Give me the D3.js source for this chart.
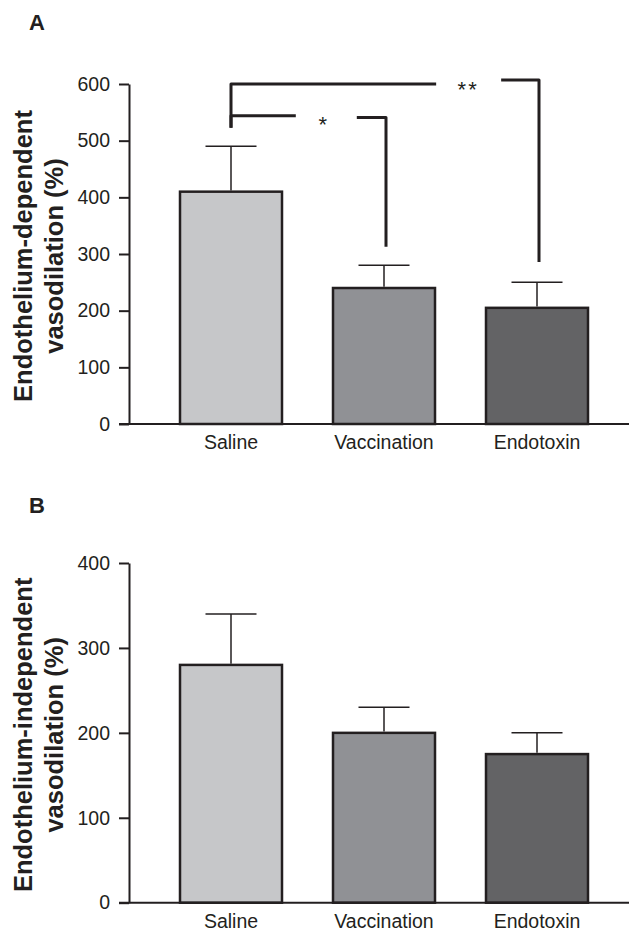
<!DOCTYPE html>
<html>
<head>
<meta charset="utf-8">
<script src="https://cdn.jsdelivr.net/npm/d3@7"></script>
<style>
  html, body { margin: 0; padding: 0; background: #fff; }
  svg { display: block; font-family: "Liberation Sans", Arial, Helvetica, sans-serif; }
</style>
</head>
<body>
<svg id="chart" width="629" height="933"></svg>
<script>
// ---- data ----
const categories = ["Saline", "Vaccination", "Endotoxin"];
const fills = ["#c6c7c9", "#909195", "#636365"];

const dependentMeans = [410, 240, 205];
const dependentErrors = [80, 40, 45];
const dependentTicks = [0, 100, 200, 300, 400, 500, 600];

const independentMeans = [280, 200, 175];
const independentErrors = [60, 30, 25];
const independentTicks = [0, 100, 200, 300, 400];

// significance brackets for panel A (data units)
const sigBrackets = [
  { from: "Saline", to: "Endotoxin", leftLow: 523, leftTop: 600, rightTop: 607, rightLow: 286, label: "**", at: 0.775 },
  { from: "Saline", to: "Vaccination", leftLow: 523, leftTop: 544, rightTop: 541, rightLow: 313, label: "*", at: 0.6 }
];

// ---- layout ----
const svg = d3.select("#chart");
const ink = "#231f20";
const axisX = 129;

const x = d3.scaleBand().domain(categories)
  .range([154.5, 613.5]).paddingInner(1/3).paddingOuter(1/6);

function panel(opts) {
  const { letter, letterY, yMax, y0, y1, ticks, means, errors, title1, title2 } = opts;
  const y = d3.scaleLinear().domain([0, yMax]).range([y0, y1]);
  const g = svg.append("g");

  g.append("text").attr("x", 29).attr("y", letterY)
    .attr("font-size", 22).attr("font-weight", "bold").attr("fill", ink).text(letter);

  // y axis
  const ya = g.append("g").attr("transform", `translate(${axisX},0)`)
    .call(d3.axisLeft(y).tickValues(ticks).tickSize(10).tickSizeOuter(0).tickPadding(9).tickFormat(d3.format("d")));
  ya.select(".domain").attr("stroke", ink).attr("stroke-width", 2);
  ya.selectAll(".tick line").attr("stroke", ink).attr("stroke-width", 2);
  ya.selectAll(".tick text").attr("font-size", 19.5).attr("fill", ink)
    .attr("font-family", "'Liberation Sans', Arial, sans-serif");

  // bars
  g.selectAll("rect.bar").data(categories).join("rect")
    .attr("x", d => x(d)).attr("width", x.bandwidth())
    .attr("y", (d, i) => y(means[i])).attr("height", (d, i) => y(0) - y(means[i]))
    .attr("fill", (d, i) => fills[i]).attr("stroke", ink).attr("stroke-width", 2.5);

  // error bars
  const eb = g.selectAll("g.err").data(categories).join("g");
  eb.append("line")
    .attr("x1", d => x(d) + x.bandwidth()/2).attr("x2", d => x(d) + x.bandwidth()/2)
    .attr("y1", (d, i) => y(means[i]) - 1.25).attr("y2", (d, i) => y(means[i] + errors[i]))
    .attr("stroke", ink).attr("stroke-width", 1.5);
  eb.append("line")
    .attr("x1", d => x(d) + x.bandwidth()/4).attr("x2", d => x(d) + 3*x.bandwidth()/4)
    .attr("y1", (d, i) => y(means[i] + errors[i])).attr("y2", (d, i) => y(means[i] + errors[i]))
    .attr("stroke", ink).attr("stroke-width", 1.5);

  // x axis
  g.append("line").attr("x1", axisX - 10).attr("x2", 629).attr("y1", y(0)).attr("y2", y(0))
    .attr("stroke", ink).attr("stroke-width", 2);
  const xa = g.append("g").attr("transform", `translate(0,${y(0)})`)
    .call(d3.axisBottom(x).tickSize(0).tickPadding(11));
  xa.select(".domain").remove();
  xa.selectAll(".tick text").attr("font-size", 19.5).attr("fill", ink)
    .attr("font-family", "'Liberation Sans', Arial, sans-serif");

  // title
  const cy = (y0 + y1) / 2 + 2;
  const t = g.append("text").attr("transform", `translate(0,${cy}) rotate(-90)`)
    .attr("text-anchor", "middle").attr("font-size", 25.5).attr("font-weight", "bold").attr("fill", ink);
  t.append("tspan").attr("x", 0).attr("y", 31.5).text(title1);
  t.append("tspan").attr("x", 0).attr("y", 62.5).text(title2);

  return { g, y };
}

const A = panel({ letter: "A", letterY: 30, yMax: 600, y0: 424, y1: 84, ticks: dependentTicks,
  means: dependentMeans, errors: dependentErrors,
  title1: "Endothelium-dependent", title2: "vasodilation (%)" });

panel({ letter: "B", letterY: 513, yMax: 400, y0: 902.7, y1: 563, ticks: independentTicks,
  means: independentMeans, errors: independentErrors,
  title1: "Endothelium-independent", title2: "vasodilation (%)" });

// significance brackets
const cx = c => x(c) + x.bandwidth() / 2;
sigBrackets.forEach(b => {
  const yA = A.y;
  const x0 = cx(b.from), x1 = cx(b.to);
  const lx = x0 + (x1 - x0) * b.at;
  const gapL = b.label.length > 1 ? 32 : 27;
  const gapR = b.label.length > 1 ? 33 : 34;
  A.g.append("path")
    .attr("d", d3.line()([[x0, yA(b.leftLow)], [x0, yA(b.leftTop)], [lx - gapL, yA(b.leftTop)]]))
    .attr("fill", "none").attr("stroke", ink).attr("stroke-width", 3).attr("stroke-linejoin", "round");
  A.g.append("path")
    .attr("d", d3.line()([[lx + gapR, yA(b.rightTop)], [x1 + 2, yA(b.rightTop)], [x1 + 2, yA(b.rightLow)]]))
    .attr("fill", "none").attr("stroke", ink).attr("stroke-width", 3).attr("stroke-linejoin", "round");
  A.g.append("text").attr("x", lx).attr("y", yA((b.leftTop + b.rightTop) / 2) + 15)
    .attr("text-anchor", "middle").attr("font-size", 22).attr("fill", ink)
    .attr("letter-spacing", b.label.length > 1 ? 2 : 0).text(b.label);
});
</script>
</body>
</html>
